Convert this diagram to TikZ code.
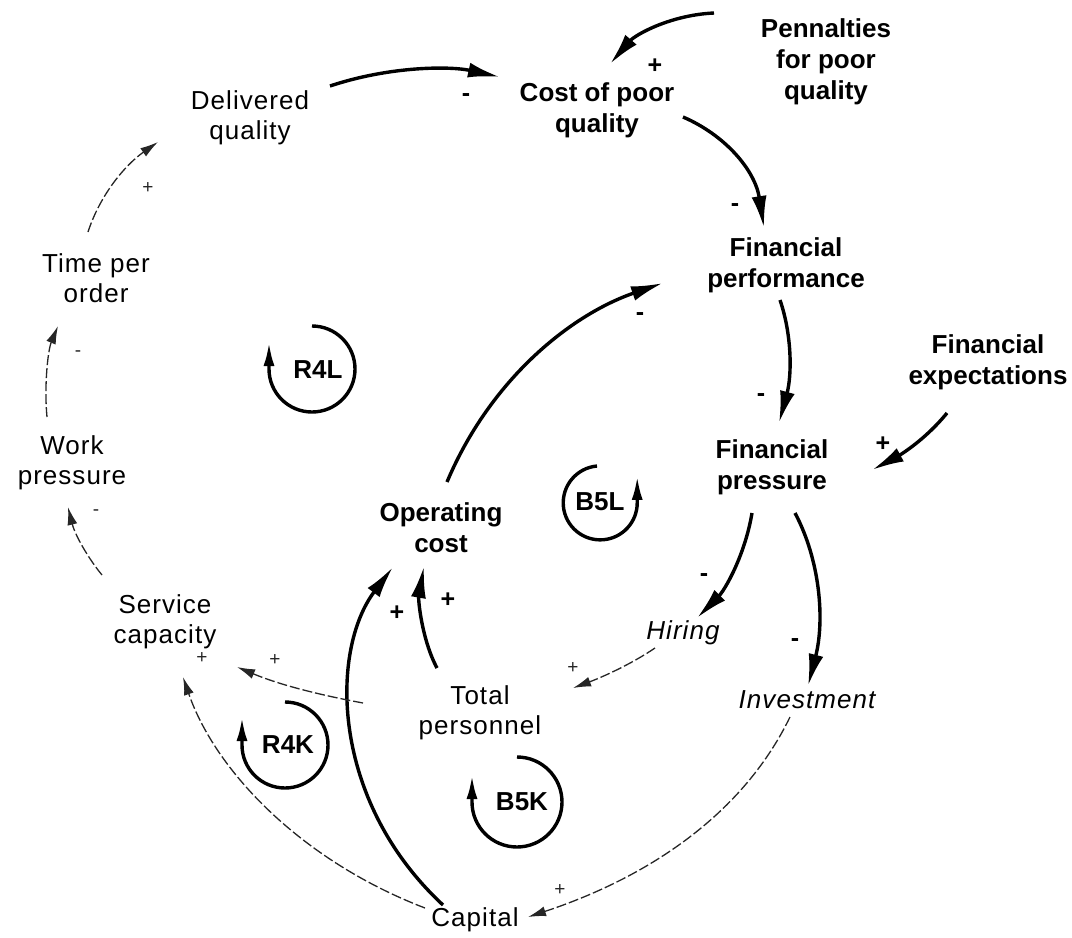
\documentclass[tikz,border=0pt]{standalone}
\usepackage{fontspec}
\setmainfont{Liberation Sans}
\newfontfamily\plainlbl[LetterSpace=4]{Liberation Sans}
\usetikzlibrary{arrows.meta}

\begin{document}
\begin{tikzpicture}[x=1pt,y=-1pt,
  bvar/.style={font=\fontsize{26}{31}\selectfont\bfseries, align=center, inner sep=0pt},
  rvar/.style={font=\plainlbl\fontsize{26}{30}\selectfont, align=center, inner sep=0pt},
  ivar/.style={font=\plainlbl\fontsize{26}{30}\selectfont\itshape, align=center, inner sep=0pt},
  strong/.style={line width=3.4pt, -{Latex[length=32pt,width=15pt]}},
  faint/.style={line width=1.3pt, black!85, dash pattern=on 10pt off 3pt,
                -{Latex[length=18pt,width=10pt]}},
  bpol/.style={font=\fontsize{25}{25}\selectfont\bfseries, inner sep=0pt},
  fpol/.style={font=\fontsize{19}{19}\selectfont, inner sep=0pt, black!85},
  looparc/.style={line width=3.4pt, -{Latex[length=24pt,width=11pt]}},
  looplbl/.style={font=\fontsize{26}{26}\selectfont\bfseries, inner sep=0pt}]
\useasboundingbox (0,0) rectangle (1072,938);

% ---- variables ----
\node[rvar] (dq)     at (250,118) {Delivered\\quality};
\node[bvar] (cq)     at (597,110) {Cost of poor\\quality};
\node[bvar] (pen)    at (826,62)  {Pennalties\\for poor\\quality};
\node[bvar] (fperf)  at (786,265) {Financial\\performance};
\node[bvar] (fexp)   at (988,362) {Financial\\expectations};
\node[bvar] (fpress) at (772,467) {Financial\\pressure};
\node[bvar] (opc)    at (441,528) {Operating\\cost};
\node[rvar] (tpo)    at (96,278)  {Time per\\order};
\node[rvar] (wp)     at (72,463)  {Work\\pressure};
\node[rvar] (sc)     at (165,622) {Service\\capacity};
\node[ivar] (hir)    at (683,633) {Hiring};
\node[rvar] (tp)     at (480,713) {Total\\personnel};
\node[ivar] (inv)    at (807,700) {Investment};
\node[rvar] (cap)    at (475,920) {Capital};

% ---- strong links ----
\draw[strong] ([shift={(80,-32)}]dq.center) .. controls (390,66) and (450,66) .. ([shift={(-97,-33)}]cq.center);
\node[bpol] (p1) at (466,98) {-};
\draw[strong] ([shift={(-112,-49)}]pen.center) .. controls (670,15) and (635,35) .. ([shift={(13,-46)}]cq.center);
\node[bpol] (p2) at (655,66) {+};
\draw[strong] ([shift={(86,7)}]cq.center) .. controls (725,135) and (755,170) .. ([shift={(-22,-37)}]fperf.center);
\node[bpol] (p3) at (735,208) {-};
\draw[strong] ([shift={(-6,35)}]fperf.center) .. controls (792,335) and (792,375) .. ([shift={(7,-44)}]fpress.center);
\node[bpol] (p4) at (761,398) {-};
\draw[strong] ([shift={(-41,51)}]fexp.center) .. controls (925,440) and (900,455) .. ([shift={(100,3)}]fpress.center);
\node[bpol] (p5) at (883,444) {+};
\draw[strong] ([shift={(-20,46)}]fpress.center) .. controls (745,555) and (725,590) .. ([shift={(14,-15)}]hir.center);
\node[bpol] (p6) at (704,578) {-};
\draw[strong] ([shift={(23,46)}]fpress.center) .. controls (820,560) and (825,620) .. ([shift={(1,-14)}]inv.center);
\node[bpol] (p7) at (795,643) {-};
\draw[strong] ([shift={(6,-46)}]opc.center) .. controls (490,380) and (570,315) .. ([shift={(-123,18)}]fperf.center);
\node[bpol] (p8) at (640,317) {-};
\draw[strong] ([shift={(-43,-45)}]tp.center) .. controls (422,640) and (418,600) .. ([shift={(-17,38)}]opc.center);
\node[bpol] (p9) at (448,600) {+};
\draw[strong] ([shift={(-32,-15)}]cap.center) .. controls (330,800) and (330,650) .. ([shift={(-48,39)}]opc.center);
\node[bpol] (p10) at (397,613) {+};

% ---- faint links ----
\draw[faint] ([shift={(-8,-46)}]tpo.center) .. controls (100,195) and (125,165) .. ([shift={(-92,24)}]dq.center);
\node[fpol] (q1) at (148,188) {+};
\draw[faint] ([shift={(-25,-46)}]wp.center) .. controls (44,385) and (48,350) .. ([shift={(-38,48)}]tpo.center);
\node[fpol] (q2) at (78,354) {-};
\draw[faint] ([shift={(-63,-47)}]sc.center) .. controls (88,558) and (75,535) .. ([shift={(-4,44)}]wp.center);
\node[fpol] (q3) at (96,513) {-};
\draw[faint] ([shift={(-117,-10)}]tp.center) .. controls (320,695) and (280,685) .. ([shift={(72,45)}]sc.center);
\node[fpol] (q4) at (275,660) {+};
\draw[faint] ([shift={(-28,15)}]hir.center) .. controls (630,665) and (600,678) .. ([shift={(93,-25)}]tp.center);
\node[fpol] (q5) at (573,668) {+};
\draw[faint] ([shift={(-17,17)}]inv.center) .. controls (740,820) and (640,880) .. ([shift={(53,-3)}]cap.center);
\node[fpol] (q6) at (560,890) {+};
\draw[faint] ([shift={(-50,-12)}]cap.center) .. controls (300,860) and (215,770) .. ([shift={(18,55)}]sc.center);
\node[fpol] (q7) at (202,658) {+};

% ---- loop markers ----
\node[looplbl] (r4l) at (318,370) {R4L};
\draw[looparc] (312,326) arc[start angle=-90, end angle=180, radius=43] -- ++(0,-27);
\node[looplbl] (b5l) at (600,502) {B5L};
\draw[looparc] (597,466) arc[start angle=-95, end angle=-360, radius=37] -- ++(0,-27);
\node[looplbl] (b5k) at (522,802) {B5K};
\draw[looparc] (517,757) arc[start angle=-90, end angle=180, radius=45] -- ++(0,-27);
\node[looplbl] (r4k) at (288,745) {R4K};
\draw[looparc] (285,702) arc[start angle=-90, end angle=180, radius=43] -- ++(0,-28);
\end{tikzpicture}
\end{document}
